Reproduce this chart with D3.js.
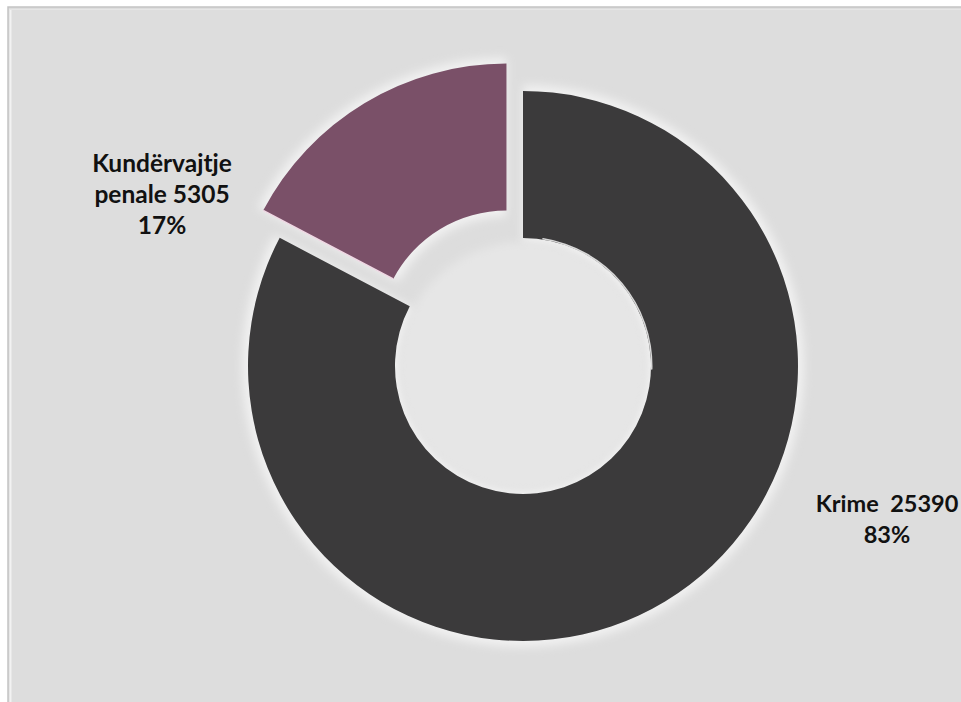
<!DOCTYPE html>
<html>
<head>
<meta charset="utf-8">
<script src="https://cdn.jsdelivr.net/npm/d3@7"></script>
<style>
  html, body { margin: 0; padding: 0; background: #ffffff; }
  svg { display: block; }
  text { white-space: pre; }
</style>
</head>
<body>
<svg id="chart" width="961" height="702"></svg>
<script>
// ---- data ----
const categories = ["Krime", "Kundërvajtje penale"];
const values = [25390, 5305];
const percentLabels = ["83%", "17%"];
const labelLines = [
  ["Krime  25390", "83%"],
  ["Kundërvajtje", "penale 5305", "17%"]
];
const sliceColors = ["#3f3e3f", "#7a5068"];

// ---- layout ----
const W = 961, H = 702;
const cx = 523, cy = 366;
const outerR = 275, innerR = 128;
const explode = [0, 32];
const labelPos = [[887, 512], [162, 172]];
const labelSize = [23.5, 24.5];
const lineH = 31;

const svg = d3.select("#chart");
const defs = svg.append("defs");

const glow = defs.append("filter").attr("id", "glow")
  .attr("x", "-20%").attr("y", "-20%").attr("width", "140%").attr("height", "140%");
glow.append("feGaussianBlur").attr("stdDeviation", 5);

const grad0 = defs.append("radialGradient").attr("id", "g0")
  .attr("gradientUnits", "userSpaceOnUse")
  .attr("cx", cx).attr("cy", cy).attr("r", outerR);
grad0.append("stop").attr("offset", "45%").attr("stop-color", "#444344");
grad0.append("stop").attr("offset", "100%").attr("stop-color", "#3b3a3b");

// frame and background
svg.append("rect").attr("x", 8).attr("y", 7).attr("width", W).attr("height", H)
  .attr("fill", "#dddddd").attr("stroke", "#c3c3c3").attr("stroke-width", 1.5);
svg.append("line").attr("x1", 10.5).attr("x2", 10.5).attr("y1", 9).attr("y2", H)
  .attr("stroke", "#f2f2f2").attr("stroke-width", 2);
svg.append("line").attr("x1", 10).attr("x2", W).attr("y1", 9.5).attr("y2", 9.5)
  .attr("stroke", "#e6e6e6").attr("stroke-width", 1);

const pie = d3.pie().sort(null).value(d => d);
const arcs = pie(values);
const arc = d3.arc().innerRadius(innerR).outerRadius(outerR);

function offsetOf(d, i) {
  const a = (d.startAngle + d.endAngle) / 2;
  return [Math.sin(a) * explode[i], -Math.cos(a) * explode[i]];
}

const g = svg.append("g").attr("transform", `translate(${cx},${cy})`);

// soft light halo behind slices
g.append("g").attr("filter", "url(#glow)")
  .selectAll("path").data(arcs).join("path")
  .attr("transform", (d, i) => `translate(${offsetOf(d, i)})`)
  .attr("d", d3.arc().innerRadius(innerR - 6).outerRadius(outerR + 6))
  .attr("fill", "#f1f1f1");

// inner hole slightly lighter
g.append("circle").attr("r", innerR - 4).attr("fill", "#e6e6e6")
  .attr("filter", "url(#glow)");

// slices
g.selectAll("path.slice").data(arcs).join("path")
  .attr("class", "slice")
  .attr("transform", (d, i) => `translate(${offsetOf(d, i)})`)
  .attr("d", arc)
  .attr("fill", (d, i) => i === 0 ? "url(#g0)" : sliceColors[i]);

// thin highlight on inner edge of the main slice
const hl = d3.arc().innerRadius(innerR).outerRadius(innerR + 1.5)
  .startAngle(0.15).endAngle(1.6).cornerRadius(0.75);
g.append("path").attr("d", hl()).attr("fill", "#f4f4f4").attr("opacity", 0.85);

// highlight along lower edge of the small slice
{
  const d = arcs[1], o = offsetOf(d, 1), a = d.startAngle;
  const p1 = [Math.sin(a) * innerR + o[0], -Math.cos(a) * innerR + o[1]];
  const p2 = [Math.sin(a) * outerR + o[0], -Math.cos(a) * outerR + o[1]];
  g.append("line").attr("x1", p1[0]).attr("y1", p1[1]).attr("x2", p2[0]).attr("y2", p2[1])
    .attr("stroke", "#f0d8e4").attr("stroke-width", 1.5);
}

// labels
labelLines.forEach((lines, i) => {
  const t = svg.append("text")
    .attr("x", labelPos[i][0]).attr("y", labelPos[i][1])
    .attr("text-anchor", "middle")
    .attr("font-family", "Lato, 'Open Sans', sans-serif")
    .attr("font-weight", 700)
    .attr("font-size", labelSize[i])
    .attr("fill", "#111111");
  lines.forEach((ln, j) => {
    t.append("tspan").attr("x", labelPos[i][0]).attr("dy", j === 0 ? 0 : lineH).text(ln);
  });
});
</script>
</body>
</html>
